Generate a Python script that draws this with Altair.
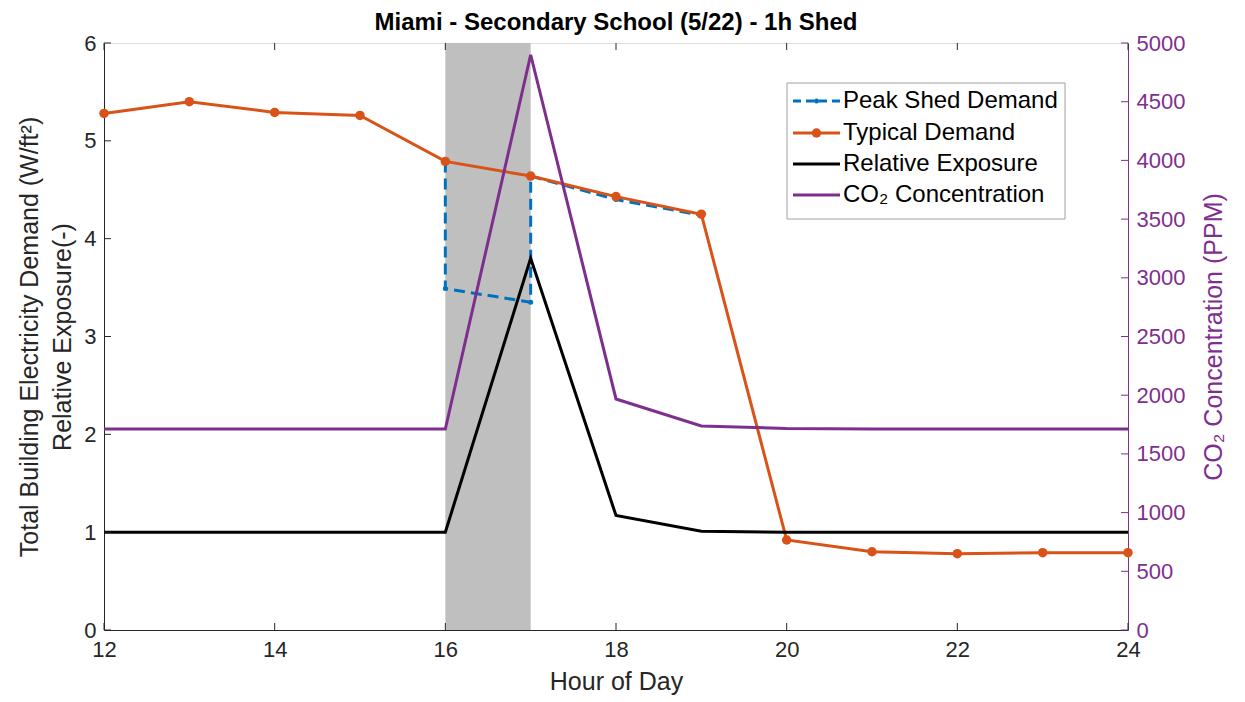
import altair as alt
import pandas as pd

# ---------------- data ----------------
hours = [12, 13, 14, 15, 16, 17, 18, 19, 20, 21, 22, 23, 24]
typical_demand = [5.28, 5.40, 5.29, 5.26, 4.79, 4.64, 4.43, 4.25, 0.92, 0.80, 0.78, 0.79, 0.79]
relative_exposure = [1.0, 1.0, 1.0, 1.0, 1.0, 3.80, 1.17, 1.01, 1.0, 1.0, 1.0, 1.0, 1.0]
co2_ppm = [1712, 1712, 1712, 1712, 1712, 4900, 1968, 1738, 1716, 1712, 1712, 1712, 1712]

shed_hours = [16, 16, 17, 17, 18, 19]
shed_demand = [4.79, 3.49, 3.35, 4.64, 4.40, 4.24]

shed_window = [16, 17]

x_ticks = [12, 14, 16, 18, 20, 22, 24]
left_ticks = [0, 1, 2, 3, 4, 5, 6]
right_ticks = [0, 500, 1000, 1500, 2000, 2500, 3000, 3500, 4000, 4500, 5000]

legend_labels = ["Peak Shed Demand", "Typical Demand", "Relative Exposure", "CO\u2082 Concentration"]

# ---------------- style ----------------
W, H = 1024, 587
FONT = "Liberation Sans"
AX = "#262626"
BLUE = "#0072BD"
ORANGE = "#D95319"
PURPLE = "#7E2F8E"
GRAY = "#BFBFBF"
TICK_FS = 22
TITLE_FS = 25

df_main = pd.DataFrame({"hour": hours, "typical": typical_demand,
                        "exposure": relative_exposure, "co2": co2_ppm})
df_shed = pd.DataFrame({"hour": shed_hours, "value": shed_demand,
                        "idx": list(range(len(shed_hours)))})
df_win = pd.DataFrame({"start": [shed_window[0]], "end": [shed_window[1]]})
df_xt = pd.DataFrame({"hour": x_ticks})
df_lt = pd.DataFrame({"value": left_ticks})
df_rt = pd.DataFrame({"value": right_ticks})
df_one = pd.DataFrame({"a": [0]})

xs = alt.Scale(domain=[12, 24], nice=False, zero=False)
yl = alt.Scale(domain=[0, 6], nice=False)
yr = alt.Scale(domain=[0, 5000], nice=False)

x_axis = alt.Axis(title="Hour of Day", values=x_ticks, ticks=False, grid=False,
                  domainColor=AX, labelColor=AX, titleColor=AX, labelFlush=False,
                  labelFontSize=TICK_FS, titleFontSize=TITLE_FS, labelPadding=9,
                  titlePadding=9, labelFont=FONT, titleFont=FONT,
                  titleFontWeight="normal")
left_axis = alt.Axis(title=["Total Building Electricity Demand (W/ft\u00b2)", "Relative Exposure(-)"],
                     values=left_ticks, ticks=False, grid=False, orient="left",
                     domainColor=AX, labelColor=AX, titleColor=AX, labelFlush=False,
                     labelFontSize=TICK_FS, titleFontSize=TITLE_FS, labelPadding=8,
                     titlePadding=8, labelFont=FONT, titleFont=FONT,
                     titleFontWeight="normal", titleLineHeight=33)
right_axis = alt.Axis(title="CO\u2082 Concentration (PPM)", values=right_ticks, format="d",
                      ticks=False, grid=False, orient="right", labelFlush=False,
                      domainColor=PURPLE, labelColor=PURPLE, titleColor=PURPLE,
                      labelFontSize=TICK_FS, titleFontSize=TITLE_FS, labelPadding=8,
                      titlePadding=17, labelFont=FONT, titleFont=FONT,
                      titleFontWeight="normal", titleAngle=270, titleBaseline="top")

X = lambda f: alt.X(f, scale=xs, axis=x_axis)

# ---------------- left group ----------------
rect = alt.Chart(df_win).mark_rect(color=GRAY).encode(
    x=alt.X("start:Q", scale=xs, axis=x_axis), x2="end:Q",
    y=alt.value(0), y2=alt.value(H))

shed_line = alt.Chart(df_shed).mark_line(
    color=BLUE, strokeWidth=3, strokeDash=[11, 6],
    point=alt.OverlayMarkDef(color=BLUE, size=25, filled=True)).encode(
    x=X("hour:Q"), y=alt.Y("value:Q", scale=yl, axis=left_axis),
    order="idx:Q")

typ_line = alt.Chart(df_main).mark_line(
    color=ORANGE, strokeWidth=3,
    point=alt.OverlayMarkDef(color=ORANGE, size=90, filled=True, opacity=1)).encode(
    x=X("hour:Q"), y=alt.Y("typical:Q", scale=yl, axis=left_axis))

exp_line = alt.Chart(df_main).mark_line(color="black", strokeWidth=3).encode(
    x=X("hour:Q"), y=alt.Y("exposure:Q", scale=yl, axis=left_axis))

xt_bottom = alt.Chart(df_xt).mark_rule(color=AX, strokeWidth=1).encode(
    x=X("hour:Q"), y=alt.value(H - 7), y2=alt.value(H))
xt_top = alt.Chart(df_xt).mark_rule(color=AX, strokeWidth=1).encode(
    x=X("hour:Q"), y=alt.value(0), y2=alt.value(7))
lt = alt.Chart(df_lt).mark_rule(color=AX, strokeWidth=1).encode(
    y=alt.Y("value:Q", scale=yl, axis=left_axis), x=alt.value(0), x2=alt.value(7))

left_group = alt.layer(rect, shed_line, typ_line, exp_line, xt_bottom, xt_top, lt)

# ---------------- right group ----------------
co2_line = alt.Chart(df_main).mark_line(color=PURPLE, strokeWidth=3).encode(
    x=X("hour:Q"), y=alt.Y("co2:Q", scale=yr, axis=right_axis))
rt = alt.Chart(df_rt).mark_rule(color=PURPLE, strokeWidth=1).encode(
    y=alt.Y("value:Q", scale=yr, axis=right_axis), x=alt.value(W - 7), x2=alt.value(W))

# ---------------- legend (manual) ----------------
LX0, LX1, LY0, LY1 = 683, 961, 40, 176
row_y = [58, 90, 121, 152]
sx0, sx1, tx = 689, 736, 739

leg = [alt.Chart(df_one).mark_rect(fill="white", stroke="#A0A0A0", strokeWidth=1).encode(
    x=alt.value(LX0), x2=alt.value(LX1), y=alt.value(LY0), y2=alt.value(LY1))]
leg.append(alt.Chart(df_one).mark_rule(color=BLUE, strokeWidth=3, strokeDash=[8, 5]).encode(
    x=alt.value(sx0), x2=alt.value(sx1), y=alt.value(row_y[0])))
leg.append(alt.Chart(df_one).mark_point(color=BLUE, filled=True, size=25, opacity=1).encode(
    x=alt.value((sx0 + sx1) / 2), y=alt.value(row_y[0])))
leg.append(alt.Chart(df_one).mark_rule(color=ORANGE, strokeWidth=3).encode(
    x=alt.value(sx0), x2=alt.value(sx1), y=alt.value(row_y[1])))
leg.append(alt.Chart(df_one).mark_point(color=ORANGE, filled=True, size=90, opacity=1).encode(
    x=alt.value((sx0 + sx1) / 2), y=alt.value(row_y[1])))
leg.append(alt.Chart(df_one).mark_rule(color="black", strokeWidth=3).encode(
    x=alt.value(sx0), x2=alt.value(sx1), y=alt.value(row_y[2])))
leg.append(alt.Chart(df_one).mark_rule(color=PURPLE, strokeWidth=3).encode(
    x=alt.value(sx0), x2=alt.value(sx1), y=alt.value(row_y[3])))
for i, lab in enumerate(legend_labels):
    leg.append(alt.Chart(df_one).mark_text(
        text=lab, align="left", baseline="middle", font=FONT, fontSize=24, color="black").encode(
        x=alt.value(tx), y=alt.value(row_y[i])))

right_group = alt.layer(co2_line, rt, *leg)

chart = alt.layer(left_group, right_group).resolve_scale(y="independent").properties(
    width=W, height=H,
    autosize=alt.AutoSizeParams(type="none"),
    padding={"left": 96, "top": 35, "right": 100, "bottom": 72},
    title=alt.TitleParams("Miami - Secondary School (5/22) - 1h Shed", fontSize=24,
                          fontWeight="bold", font=FONT, color="black",
                          offset=3, dy=6),
).configure_view(stroke=AX, strokeWidth=1).configure(background="white")

chart.save("out.html", embed_options={"renderer": "svg", "actions": False})
